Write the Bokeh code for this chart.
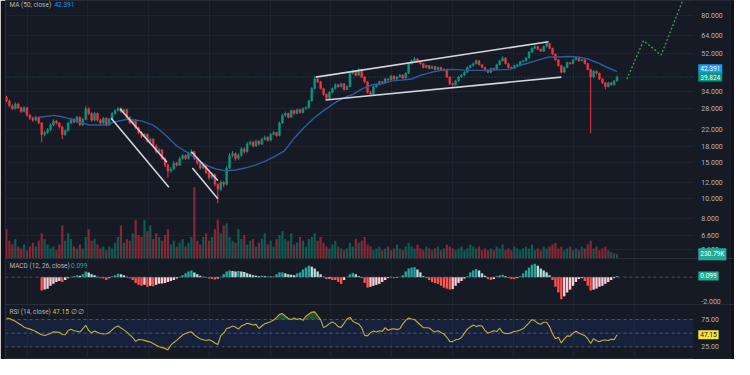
import math
import numpy as np
from bokeh.plotting import figure
from bokeh.models import Range1d, LinearScale, FixedTicker, BoxAnnotation, Label
from bokeh.core.properties import value
from bokeh.embed import file_html
from bokeh.resources import INLINE

# ---------------- data ----------------
close = [
    30.34, 28.73, 27.81, 29.37, 28.11, 26.92, 28.11, 25.77, 24.94, 24.40,
    25.21, 23.62, 20.72, 21.18, 21.88, 23.11, 24.14, 23.62, 22.61, 20.72,
    21.64, 23.62, 24.67, 23.87, 25.21, 23.11, 24.67, 27.81, 26.34, 24.40,
    26.34, 24.40, 23.62, 24.94, 23.11, 24.67, 26.34, 27.21, 27.81, 26.92,
    27.51, 25.21, 23.62, 24.40, 22.37, 21.18, 20.27, 20.72, 19.21, 19.63,
    18.19, 17.03, 17.41, 15.78, 14.63, 13.70, 14.00, 14.95, 14.63, 15.78,
    16.31, 15.78, 16.67, 17.03, 15.78, 14.95, 14.15, 14.63, 13.40, 12.69,
    13.11, 11.76, 11.13, 12.02, 11.76, 14.15, 16.31, 16.67, 15.78, 16.31,
    17.60, 17.03, 18.59, 19.00, 18.19, 19.21, 18.59, 19.63, 20.06, 19.42,
    20.72, 21.18, 20.50, 23.62, 25.77, 26.34, 25.21, 27.21, 26.34, 27.51,
    26.62, 27.81, 28.11, 30.34, 34.96, 38.98, 37.73, 34.96, 32.75, 31.35,
    33.47, 34.96, 36.52, 35.73, 36.92, 34.58, 35.73, 41.61, 42.54, 40.72,
    43.47, 39.84, 37.73, 33.47, 32.75, 35.73, 36.52, 37.73, 37.32, 38.98,
    38.56, 40.28, 38.98, 39.84, 40.72, 39.41, 41.61, 46.40, 47.95, 49.00,
    47.43, 46.40, 44.43, 45.40, 43.95, 44.91, 43.47, 44.43, 43.00, 43.47,
    39.84, 36.92, 36.52, 38.14, 39.84, 40.72, 42.07, 44.43, 45.40, 46.40,
    47.95, 45.90, 44.43, 43.00, 42.07, 43.95, 43.47, 45.90, 47.95, 49.54,
    46.40, 44.43, 43.95, 45.40, 45.90, 47.43, 47.95, 49.54, 52.89, 55.24,
    56.46, 54.64, 53.47, 56.46, 58.33, 55.24, 51.74, 48.47, 45.40, 42.07,
    44.43, 46.91, 46.40, 48.47, 49.54, 47.95, 48.47, 46.40, 43.47, 39.84,
    42.54, 41.61, 38.98, 37.32, 35.73, 37.32, 36.52, 38.14, 39.824,
]
open_ = [
    31.60, 30.34, 28.73, 27.81, 29.37, 28.11, 26.92, 28.11, 25.77, 24.94,
    24.40, 25.21, 23.62, 20.72, 21.18, 21.88, 23.11, 24.14, 23.62, 22.61,
    20.72, 21.64, 23.62, 24.67, 23.87, 25.21, 23.11, 24.67, 27.81, 26.34,
    24.40, 26.34, 24.40, 23.62, 24.94, 23.11, 24.67, 26.34, 27.21, 27.81,
    26.92, 27.51, 25.21, 23.62, 24.40, 22.37, 21.18, 20.27, 20.72, 19.21,
    19.63, 18.19, 17.03, 17.41, 15.78, 14.63, 13.70, 14.00, 14.95, 14.63,
    15.78, 16.31, 15.78, 16.67, 17.03, 15.78, 14.95, 14.15, 14.63, 13.40,
    12.69, 13.11, 11.76, 11.13, 12.02, 11.76, 14.15, 16.31, 16.67, 15.78,
    16.31, 17.60, 17.03, 18.59, 19.00, 18.19, 19.21, 18.59, 19.63, 20.06,
    19.42, 20.72, 21.18, 20.50, 23.62, 25.77, 26.34, 25.21, 27.21, 26.34,
    27.51, 26.62, 27.81, 28.11, 30.34, 34.96, 38.98, 37.73, 34.96, 32.75,
    31.35, 33.47, 34.96, 36.52, 35.73, 36.92, 34.58, 35.73, 41.61, 42.54,
    40.72, 43.47, 39.84, 37.73, 33.47, 32.75, 35.73, 36.52, 37.73, 37.32,
    38.98, 38.56, 40.28, 38.98, 39.84, 40.72, 39.41, 41.61, 46.40, 47.95,
    49.00, 47.43, 46.40, 44.43, 45.40, 43.95, 44.91, 43.47, 44.43, 43.00,
    43.47, 39.84, 36.92, 36.52, 38.14, 39.84, 40.72, 42.07, 44.43, 45.40,
    46.40, 47.95, 45.90, 44.43, 43.00, 42.07, 43.95, 43.47, 45.90, 47.95,
    49.54, 46.40, 44.43, 43.95, 45.40, 45.90, 47.43, 47.95, 49.54, 52.89,
    55.24, 56.46, 54.64, 53.47, 56.46, 58.33, 55.24, 51.74, 48.47, 45.40,
    42.07, 44.43, 46.91, 46.40, 48.47, 49.54, 47.95, 48.47, 46.40, 43.47,
    39.84, 42.54, 41.61, 38.98, 37.32, 35.73, 37.32, 36.52, 38.14,
]
high = [
    32.20, 30.90, 29.20, 29.90, 29.80, 28.50, 28.60, 28.40, 26.20, 25.40,
    25.70, 25.50, 23.90, 21.60, 22.30, 23.50, 24.60, 24.50, 23.90, 22.90,
    22.00, 24.00, 25.10, 25.00, 25.60, 25.50, 25.00, 28.60, 28.20, 26.70,
    26.80, 26.60, 24.80, 25.30, 25.20, 25.00, 26.70, 27.60, 28.40, 28.20,
    27.90, 27.80, 25.50, 24.80, 24.70, 22.70, 21.50, 21.10, 21.00, 20.00,
    19.90, 18.50, 17.80, 17.60, 16.00, 14.90, 14.30, 15.30, 15.20, 16.10,
    16.60, 16.50, 17.00, 17.50, 17.20, 16.00, 15.20, 14.90, 14.80, 13.60,
    13.40, 13.30, 11.90, 12.30, 12.20, 14.50, 16.80, 17.20, 16.90, 16.70,
    18.00, 17.90, 19.00, 19.40, 19.30, 19.60, 19.50, 20.00, 20.50, 20.30,
    21.10, 21.60, 21.40, 24.00, 26.30, 26.90, 26.60, 27.60, 27.50, 27.90,
    27.80, 28.20, 28.60, 30.80, 35.50, 40.20, 39.50, 38.20, 35.30, 33.10,
    33.90, 35.40, 37.00, 36.90, 37.40, 37.20, 36.20, 42.30, 43.40, 43.00,
    44.20, 43.90, 40.20, 38.00, 34.00, 36.20, 37.00, 38.20, 38.10, 39.50,
    39.40, 40.90, 40.70, 40.40, 41.30, 41.10, 42.20, 47.00, 48.60, 50.10,
    49.50, 47.90, 46.80, 45.90, 45.80, 45.40, 45.30, 44.90, 44.80, 44.00,
    43.90, 40.20, 37.40, 38.60, 40.30, 41.30, 42.60, 45.00, 46.00, 47.00,
    48.70, 48.40, 46.30, 44.80, 43.40, 44.40, 44.40, 46.40, 48.50, 50.50,
    50.00, 46.80, 44.90, 45.90, 46.40, 47.90, 48.50, 50.10, 53.50, 56.00,
    57.20, 57.00, 55.10, 57.00, 59.80, 58.80, 55.60, 52.10, 48.90, 45.80,
    44.90, 47.40, 47.30, 49.00, 50.30, 50.00, 49.00, 48.90, 46.80, 43.90,
    43.10, 43.00, 42.00, 39.40, 37.70, 37.80, 37.70, 38.60, 40.60,
]
low = [
    29.90, 28.30, 27.30, 27.50, 27.70, 26.50, 26.60, 25.40, 24.50, 23.90,
    24.10, 23.30, 19.00, 20.30, 20.90, 21.60, 22.80, 23.20, 22.20, 19.70,
    20.40, 21.40, 23.30, 23.50, 23.60, 22.80, 22.90, 24.40, 25.90, 24.00,
    24.10, 24.00, 23.20, 23.40, 22.70, 22.90, 24.40, 26.00, 26.90, 26.50,
    26.60, 24.90, 23.30, 23.30, 22.00, 20.80, 19.90, 20.00, 18.90, 18.90,
    17.90, 16.70, 16.80, 15.50, 14.30, 12.70, 13.40, 13.80, 14.40, 14.50,
    15.60, 15.50, 15.60, 16.50, 15.50, 14.70, 13.90, 14.00, 13.20, 12.40,
    12.50, 11.50, 9.50, 10.90, 11.40, 11.60, 14.00, 16.00, 15.40, 15.50,
    16.10, 16.70, 16.90, 18.30, 17.90, 18.00, 18.30, 18.40, 19.40, 19.10,
    19.20, 20.50, 20.20, 20.30, 23.40, 25.40, 24.90, 25.00, 26.00, 26.10,
    26.30, 26.40, 27.50, 27.90, 30.10, 34.60, 37.20, 34.50, 32.30, 30.90,
    31.00, 33.20, 34.60, 35.30, 35.40, 34.20, 34.30, 35.50, 41.00, 40.20,
    40.40, 39.30, 37.20, 33.00, 32.10, 32.50, 35.30, 36.20, 36.90, 37.00,
    38.10, 38.30, 38.50, 38.60, 39.50, 39.00, 39.10, 41.30, 46.00, 47.50,
    46.90, 45.90, 44.00, 44.00, 43.50, 43.60, 43.00, 43.10, 42.60, 42.70,
    39.40, 36.40, 35.70, 36.20, 37.80, 39.50, 40.40, 41.80, 44.00, 45.00,
    46.00, 45.50, 44.00, 42.50, 41.60, 41.80, 43.00, 43.20, 45.60, 47.60,
    46.00, 44.00, 43.50, 43.60, 45.00, 45.60, 47.00, 47.60, 49.20, 52.50,
    54.80, 54.10, 53.00, 53.10, 56.00, 54.70, 51.20, 48.00, 44.90, 41.50,
    41.80, 44.10, 45.90, 46.10, 48.10, 47.50, 47.60, 46.00, 43.00, 21.00,
    39.40, 41.10, 38.50, 36.80, 34.60, 35.40, 36.00, 36.20, 37.80,
]
volume_k = [
    1800, 1080, 840, 1200, 720, 600, 840, 480, 720, 960,
    720, 1080, 1560, 1200, 840, 600, 720, 480, 840, 2040,
    1080, 1560, 1200, 720, 600, 840, 600, 1320, 1800, 1080,
    1200, 840, 600, 720, 480, 720, 600, 960, 1320, 2040,
    960, 1200, 1080, 1560, 2400, 1440, 1320, 2400, 1680, 2040,
    1200, 1560, 1320, 1080, 1440, 1800, 840, 1080, 720, 960,
    1200, 720, 960, 1320, 4440, 1080, 840, 1320, 1560, 1080,
    1320, 1800, 2400, 1560, 2040, 2160, 1320, 1080, 960, 1800,
    1200, 1440, 840, 1080, 1200, 720, 960, 1200, 1560, 840,
    1080, 720, 1200, 1440, 1680, 1200, 1080, 1560, 840, 960,
    1320, 1080, 720, 1200, 1320, 1560, 1080, 1320, 960, 720,
    600, 840, 1080, 720, 600, 480, 600, 960, 720, 1200,
    960, 1080, 1320, 840, 720, 480, 600, 720, 480, 600,
    720, 480, 600, 840, 600, 480, 720, 960, 720, 600,
    840, 600, 480, 720, 600, 480, 600, 720, 480, 600,
    840, 720, 600, 480, 600, 720, 480, 600, 840, 720,
    600, 720, 480, 600, 480, 600, 480, 720, 600, 840,
    480, 600, 480, 720, 600, 480, 600, 720, 600, 840,
    480, 600, 480, 720, 600, 720, 840, 960, 600, 720,
    480, 600, 720, 480, 600, 480, 720, 600, 840, 1080,
    600, 720, 480, 600, 720, 480, 360, 300, 230.79,
]
ma50_idx = [11.3, 16.3, 19.7, 23.0, 28.0, 34.7, 36.3, 41.3, 46.3, 49.7,
            51.3, 54.7, 58.0, 61.3, 64.7, 68.0, 71.3, 74.7, 78.0, 81.3,
            84.7, 88.0, 91.3, 94.7, 98.0, 101.3, 104.7, 108.0, 111.3, 114.7,
            118.0, 121.3, 124.7, 128.0, 131.3, 134.7, 138.0, 141.3, 144.7, 148.0,
            151.3, 158.0, 164.7, 171.3, 174.7, 178.0, 181.3, 184.7, 188.0, 191.3,
            194.7, 198.0, 201.3, 204.7, 208.0]
ma50 = [25.21, 25.77, 25.21, 24.40, 23.11, 23.11, 23.87, 24.67, 24.14, 23.11,
        22.37, 20.27, 18.19, 17.03, 15.61, 14.63, 14.00, 13.70, 13.85, 14.15,
        14.63, 15.27, 16.13, 17.22, 19.85, 22.37, 24.94, 27.21, 29.37, 31.35,
        32.75, 34.96, 36.52, 36.92, 38.14, 38.56, 38.98, 40.72, 42.07, 43.00,
        43.47, 43.00, 43.00, 43.47, 45.40, 46.91, 48.47, 50.08, 50.08, 50.35,
        50.08, 49.00, 46.91, 44.43, 42.39]
nan = float("nan")
macd_hist = [nan] * 12 + [
    -1.12, -1.04, -0.96, -0.72, -0.56, -0.40, -0.32, -0.40, -0.24, -0.08,
    0.04, 0.08, 0.16, 0.12, 0.24, 0.48, 0.40, 0.24, 0.16, 0.04,
    -0.08, -0.12, -0.24, -0.08, 0.08, 0.16, 0.28, 0.24, 0.16, 0.04,
    -0.08, -0.24, -0.48, -0.64, -0.72, -0.64, -0.80, -0.72, -0.76, -0.64,
    -0.56, -0.52, -0.48, -0.40, -0.32, -0.24, -0.12, 0.04, 0.16, 0.32,
    0.48, 0.56, 0.40, 0.24, 0.12, 0.04, -0.04, -0.12, -0.16, -0.20,
    -0.12, 0.04, 0.24, 0.48, 0.56, 0.52, 0.48, 0.52, 0.48, 0.44,
    0.32, 0.24, 0.16, 0.12, 0.08, 0.12, 0.08, 0.04, 0.08, 0.04,
    0.24, 0.40, 0.40, 0.32, 0.24, 0.20, 0.16, 0.32, 0.40, 0.64,
    0.80, 0.96, 0.88, 0.72, 0.48, 0.24, 0.04, -0.16, -0.12, -0.24,
    -0.24, -0.40, -0.56, -0.24, 0.04, 0.24, 0.36, 0.24, 0.08, -0.08,
    -0.48, -0.88, -0.80, -0.72, -0.64, -0.56, -0.40, -0.24, -0.08, 0.04,
    -0.08, -0.04, 0.04, 0.16, 0.48, 0.72, 0.80, 0.84, 0.64, 0.40,
    0.08, -0.08, -0.24, -0.40, -0.48, -0.56, -0.72, -0.88, -0.96, -1.04,
    -1.00, -0.72, -0.48, -0.32, -0.12, 0.08, 0.40, 0.56, 0.68, 0.56,
    0.32, 0.12, -0.16, -0.24, -0.16, 0.08, 0.16, 0.20, 0.08, -0.08,
    -0.16, -0.16, -0.08, 0.08, 0.32, 0.56, 0.80, 1.04, 1.12, 0.96,
    0.72, 0.56, 0.40, 0.16, -0.24, -0.80, -1.28, -1.84, -1.60, -1.28,
    -1.04, -0.72, -0.40, -0.16, -0.08, -0.32, -0.72, -1.12, -1.04, -0.96,
    -0.80, -0.72, -0.56, -0.40, -0.24, -0.08, 0.099,
]
rsi14 = [
    77.7, 77.0, 74.0, 71.9, 68.0, 65.0, 61.0, 59.0, 57.4, 55.5,
    53.0, 50.0, 47.0, 45.6, 47.5, 49.5, 52.6, 52.0, 51.4, 47.5,
    47.0, 55.0, 57.4, 54.4, 53.5, 52.0, 58.0, 64.4, 55.0, 50.4,
    54.0, 51.5, 49.5, 48.6, 49.0, 51.0, 56.0, 61.0, 63.0, 59.5,
    56.0, 52.0, 47.0, 42.0, 35.0, 38.5, 38.0, 36.8, 35.0, 33.9,
    31.0, 28.0, 25.1, 23.5, 22.0, 19.3, 28.0, 33.0, 36.8, 42.0,
    46.5, 49.5, 51.5, 52.6, 46.8, 43.0, 39.8, 38.0, 36.5, 38.1,
    35.5, 32.0, 29.3, 45.6, 50.0, 58.5, 60.2, 63.2, 61.4, 57.4,
    63.0, 65.5, 68.0, 67.0, 65.0, 66.1, 58.5, 63.2, 67.2, 68.9,
    71.0, 74.0, 79.0, 84.5, 86.0, 81.0, 77.0, 74.9, 77.7, 74.9,
    77.0, 73.5, 81.0, 85.0, 88.5, 89.0, 82.0, 74.9, 60.2, 63.2,
    67.5, 70.5, 67.5, 62.0, 60.5, 68.0, 76.0, 78.9, 71.9, 68.9,
    67.0, 60.0, 46.0, 45.0, 51.0, 54.0, 52.0, 54.4, 53.2, 60.2,
    55.0, 57.5, 58.0, 56.5, 58.0, 67.0, 73.5, 77.7, 76.0, 74.9,
    70.0, 65.0, 60.0, 60.0, 59.5, 55.0, 52.0, 54.4, 51.4, 48.6,
    42.5, 35.0, 34.5, 38.0, 39.0, 42.0, 50.0, 57.4, 61.4, 64.9,
    62.0, 64.0, 63.0, 55.0, 50.0, 52.0, 54.5, 53.0, 59.1, 51.4,
    49.5, 49.5, 51.0, 53.0, 54.0, 56.0, 58.0, 63.2, 68.9, 74.9,
    72.5, 68.0, 66.5, 70.0, 70.0, 62.0, 49.0, 39.8, 42.6, 32.1,
    39.0, 45.0, 44.5, 50.0, 53.5, 50.5, 47.5, 45.6, 39.8, 31.1,
    40.0, 36.0, 34.5, 37.0, 37.5, 36.5, 39.0, 38.1, 47.15,
]
price_ticks = [80, 64, 52, 34, 28, 22, 18, 15, 12, 10, 8, 6.6, 5.6]
macd_ticks = [-2.0]
rsi_ticks = [75.0, 25.0]
rsi_levels = [75, 50, 25]
date_grid_idx = [7.0, 27.7, 48.4, 69.1, 89.8, 110.5, 131.2, 151.9, 172.6, 193.3, 214.0]
# trend channels drawn on the chart (candle index, price)
channel_x0 = [38.67, 35.67, 63.0, 63.33, 105.33, 108.67]
channel_y0 = [27.81, 24.94, 17.03, 14.15, 39.84, 30.67]
channel_x1 = [54.67, 55.33, 72.0, 72.0, 184.67, 189.0]
channel_y1 = [15.11, 11.38, 12.28, 9.99, 59.61, 39.84]
# projected path (dotted)
proj_idx = [211.33, 217.0, 223.0, 231.5]
proj_price = [38.9, 60.27, 51.18, 105.0]
last_price = 39.824
ma_last = 42.391
vol_last = 230.79
macd_last = 0.099
rsi_last = 47.15

# ---------------- layout calibration (reference pixels) ----------------
REF_W, REF_H = 750, 375
W, H = 734, 359
X0_REF, DX_REF = 6.0, 3.0
FRAME_L_REF, CHART_R_REF = 5.0, 708.0
PRICE_REF_Y, PRICE_REF, PX_PER_LN = 16.0, 80.0, 91.8
VOL_BASE_Y, VOL_PER_PX = 269.0, 60.0
MACD_ZERO_Y, MACD_PX = 289.0, 12.5
RSI_MID_Y, RSI_PX = 347.5, 0.57


def ix(xref):
    return (xref - X0_REF) / DX_REF


def price_at(yref):
    return PRICE_REF * math.exp((PRICE_REF_Y - yref) / PX_PER_LN)


def vol_at(yref):
    return (VOL_BASE_Y - yref) * VOL_PER_PX


def macd_at(yref):
    return (MACD_ZERO_Y - yref) / MACD_PX


def rsi_at(yref):
    return 50 + (RSI_MID_Y - yref) / RSI_PX


BG = "#161a25"
GRID = "#1f2330"
SEP = "#2a2e39"
TXT = "#b2b5be"
UP, DN = "#089981", "#f23645"
FONT = "Roboto"

pad_l = round(FRAME_L_REF * W / REF_W)
XL, XC, XR = ix(FRAME_L_REF), ix(CHART_R_REF), ix(REF_W)

p = figure(width=W, height=H, output_backend="svg", toolbar_location=None,
           x_range=Range1d(XL, XR), y_range=Range1d(price_at(REF_H), price_at(0)),
           y_axis_type="log", x_axis_location=None, y_axis_location=None,
           min_border_left=pad_l, min_border_right=0,
           min_border_top=0, min_border_bottom=0,
           background_fill_color=BG, border_fill_color="#10131b")
p.outline_line_color = SEP
p.extra_y_ranges = {
    "vol": Range1d(vol_at(REF_H), vol_at(0)),
    "macd": Range1d(macd_at(REF_H), macd_at(0)),
    "rsi": Range1d(rsi_at(REF_H), rsi_at(0)),
}
p.extra_y_scales = {"vol": LinearScale(), "macd": LinearScale(), "rsi": LinearScale()}

# grids (time / price)
p.xgrid.ticker = FixedTicker(ticks=date_grid_idx)
p.xgrid.grid_line_color = GRID
p.ygrid.ticker = FixedTicker(ticks=price_ticks)
p.ygrid.grid_line_color = GRID
# price-scale area (keeps grid lines out of it)
p.add_layout(BoxAnnotation(left=XC, fill_color=BG, fill_alpha=1.0, line_color=None,
                           level="underlay"))
p.add_layout(BoxAnnotation(left=ix(746), fill_color="#10131b", fill_alpha=1.0,
                           line_color=SEP, level="underlay"))

n = len(close)
idx = np.arange(n)
o = np.array(open_)
c = np.array(close)
up = c >= o
ccol = [UP if u else DN for u in up]

# volume
p.vbar(x=idx, top=volume_k, bottom=0, width=0.75, fill_color=ccol, line_color=None,
       fill_alpha=0.5, y_range_name="vol")

# pane separators (full width)
p.segment(x0=[XL], x1=[XR], y0=[macd_at(269.5)], y1=[macd_at(269.5)],
          line_color=SEP, line_width=1, y_range_name="macd")
p.segment(x0=[XL], x1=[XR], y0=[rsi_at(317.5)], y1=[rsi_at(317.5)],
          line_color=SEP, line_width=1, y_range_name="rsi")

# last price dotted line
p.segment(x0=[XL], x1=[XC], y0=[last_price], y1=[last_price], line_color=UP,
          line_dash="1 2", line_alpha=0.6, line_width=1)

# candles
p.segment(x0=idx, y0=low, x1=idx, y1=high, line_color=ccol, line_width=1)
p.vbar(x=idx, top=np.maximum(o, c), bottom=np.minimum(o, c), width=0.62,
       fill_color=ccol, line_color=ccol, line_width=0.5)

# moving average
p.line(ma50_idx, ma50, line_color="#2a5d9c", line_width=1.4)

# channels
p.segment(x0=channel_x0, y0=channel_y0, x1=channel_x1, y1=channel_y1,
          line_color="#d1d4dc", line_width=1.6)

# projection
p.line(proj_idx, proj_price, line_color="#43a047", line_width=1.3, line_dash="2 2")

# MACD histogram
h = np.array(macd_hist)
hcol = []
prev = 0.0
for v in h:
    if np.isnan(v):
        hcol.append("#26a69a")
        continue
    if v >= 0:
        hcol.append("#26a69a" if v >= prev else "#b2dfdb")
    else:
        hcol.append("#ff5252" if v <= prev else "#ffcdd2")
    prev = v
p.vbar(x=idx, top=h, bottom=0, width=0.8, fill_color=hcol, line_color=None,
       y_range_name="macd")
p.segment(x0=[XL], x1=[XC], y0=[0], y1=[0], line_color="#787b86", line_dash="3 3",
          line_alpha=0.6, line_width=1, y_range_name="macd")

# RSI
p.add_layout(BoxAnnotation(bottom=25, top=75, right=XC, y_range_name="rsi",
                           fill_color="#2962ff", fill_alpha=0.1, line_color=None,
                           level="underlay"))
p.segment(x0=[XL] * 3, x1=[XC] * 3, y0=rsi_levels, y1=rsi_levels, line_color="#787b86",
          line_dash="3 3", line_alpha=0.6, line_width=1, y_range_name="rsi")
r = np.array(rsi14)
p.varea(x=idx, y1=np.full(n, 75.0), y2=np.maximum(r, 75), fill_color="#4caf50",
        fill_alpha=0.35, y_range_name="rsi")
p.varea(x=idx, y1=np.minimum(r, 25), y2=np.full(n, 25.0), fill_color="#f23645",
        fill_alpha=0.3, y_range_name="rsi")
p.line(idx, r, line_color="#c2b13a", line_width=1.1, y_range_name="rsi")

# scale tick labels
TX = ix(716)
tick_style = dict(text_color=TXT, text_font=value(FONT), text_font_size="7px",
                  text_baseline="middle", text_align="left")
p.text(x=[TX] * len(price_ticks), y=price_ticks,
       text=[f"{t:.3f}" for t in price_ticks], **tick_style)
p.text(x=[TX] * len(macd_ticks), y=macd_ticks,
       text=[f"{t:.3f}" for t in macd_ticks], y_range_name="macd", **tick_style)
p.text(x=[TX] * len(rsi_ticks), y=rsi_ticks,
       text=[f"{t:.2f}" for t in rsi_ticks], y_range_name="rsi", **tick_style)


def lab(xref, y, text, color, rng="default", size="6.5px", **kw):
    p.add_layout(Label(x=ix(xref), y=y, text=text, text_color=color, text_font=FONT,
                       text_font_size=size, text_baseline="middle", text_align="left",
                       y_range_name=rng, **kw))


# legends
lab(9, price_at(4.5), "MA (50, close)", TXT)
lab(55, price_at(4.5), f"{ma_last:.3f}", "#2196f3")
lab(9, macd_at(277), "MACD (12, 26, close)", TXT, "macd")
lab(72, macd_at(277), f"{macd_last:.3f}", "#22ab94", "macd")
lab(9, rsi_at(325), "RSI (14, close)", TXT, "rsi")
lab(53, rsi_at(325), f"{rsi_last:.2f}", "#d9c940", "rsi")
lab(72, rsi_at(325), "\u2205", TXT, "rsi")
lab(79, rsi_at(325), "\u2205", TXT, "rsi")

# value boxes on the scale
box = dict(padding=2, background_fill_alpha=1.0)
lab(713, price_at(71.3), f"{ma_last:.3f}", "#ffffff", background_fill_color="#2196f3", **box)
lab(713, last_price, f"{last_price:.3f}", "#ffffff", background_fill_color=UP, **box)
lab(713, vol_last, f"{vol_last:.2f}K", "#ffffff", "vol", background_fill_color="#22ab94", **box)
lab(713, macd_last, f"{macd_last:.3f}", "#ffffff", "macd", background_fill_color="#22ab94", **box)
lab(713, rsi_last, f"{rsi_last:.2f}", "#131722", "rsi", background_fill_color="#f2e33d", **box)

open("out.html", "w").write(file_html(p, INLINE))
